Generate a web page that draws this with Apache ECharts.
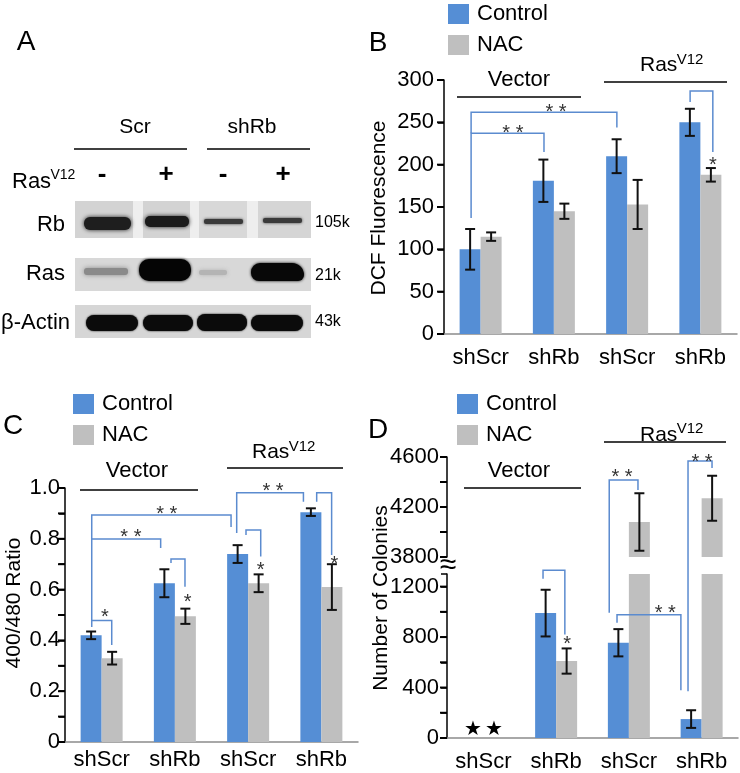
<!DOCTYPE html>
<html><head><meta charset="utf-8">
<script src="https://cdn.jsdelivr.net/npm/echarts@6/dist/echarts.min.js"></script>
<style>html,body{margin:0;padding:0;background:#fff}#c{width:740px;height:773px}</style>
</head><body><div id="c"></div>
<script>
// ---------- data ----------
const categories = ['shScr', 'shRb', 'shScr', 'shRb'];
// Panel B: DCF fluorescence
const dcfControl = [100, 181, 210, 250];
const dcfControlErr = [24, 25, 20, 16];
const dcfNAC = [115, 145, 153, 188];
const dcfNACErr = [5, 9, 29, 8];
const dcfTicks = [0, 50, 100, 150, 200, 250, 300];
// Panel C: 400/480 ratio
const ratioControl = [0.42, 0.625, 0.74, 0.905];
const ratioControlErr = [0.015, 0.055, 0.035, 0.015];
const ratioNAC = [0.33, 0.495, 0.625, 0.61];
const ratioNACErr = [0.025, 0.03, 0.035, 0.09];
const ratioTicks = [0, 0.1, 0.2, 0.3, 0.4, 0.5, 0.6, 0.7, 0.8, 0.9, 1.0];
// Panel D: number of colonies (broken axis 0-1300 / 3800-4600)
const colControl = [0, 990, 755, 150];
const colControlErr = [0, 185, 108, 70];
const colNAC = [0, 610, 4080, 4270];
const colNACErr = [0, 100, 230, 180];
const colTicksLow = [0, 200, 400, 600, 800, 1000, 1200];
const colTicksHigh = [3800, 4000, 4200, 4400, 4600];

// significance brackets: points [gridIndex, category, offset in bands, value]
const brackets = [
  {pts: [[0,0,-0.13,137],[0,0,-0.13,237],[0,1,-0.135,237],[0,1,-0.135,215]], label: '* *', at: [0,0,0.44,243]},
  {pts: [[0,0,-0.13,237],[0,0,-0.13,262],[0,2,-0.14,262],[0,2,-0.14,244]], label: '* *', at: [0,1,0.03,267]},
  {pts: [[0,3,-0.14,274],[0,3,-0.14,287],[0,3,0.17,287],[0,3,0.17,215]], label: '*', at: [0,3,0.17,205]},
  {pts: [[1,0,-0.135,0.453],[1,0,-0.135,0.478],[1,0,0.138,0.478],[1,0,0.138,0.382]], label: '*', at: [1,0,0.046,0.509]},
  {pts: [[1,0,-0.135,0.478],[1,0,-0.135,0.799],[1,1,-0.194,0.799],[1,1,-0.194,0.764]], label: '* *', at: [1,0,0.40,0.823]},
  {pts: [[1,0,-0.135,0.799],[1,0,-0.135,0.894],[1,2,-0.233,0.894],[1,2,-0.233,0.846]], label: '* *', at: [1,0,0.89,0.917]},
  {pts: [[1,1,-0.053,0.705],[1,1,-0.053,0.72],[1,1,0.138,0.72],[1,1,0.138,0.611]], label: '*', at: [1,1,0.175,0.567]},
  {pts: [[1,2,-0.156,0.823],[1,2,-0.156,0.981],[1,3,-0.245,0.981],[1,3,-0.245,0.946]], label: '* *', at: [1,2,0.34,1.005]},
  {pts: [[1,2,-0.029,0.815],[1,2,-0.029,0.835],[1,2,0.172,0.835],[1,2,0.172,0.73]], label: '*', at: [1,2,0.172,0.693]},
  {pts: [[1,3,-0.064,0.946],[1,3,-0.064,0.981],[1,3,0.14,0.981],[1,3,0.14,0.736]], label: '*', at: [1,3,0.176,0.719]},
  {pts: [[2,1,-0.18,1263],[2,1,-0.18,1330],[2,1,0.12,1330],[2,1,0.12,820]], label: '*', at: [2,1,0.15,782]},
  {pts: [[2,2,-0.27,993],[3,2,-0.27,4416],[3,2,0.125,4416],[3,2,0.125,4336]], label: '* *', at: [3,2,-0.095,4475]},
  {pts: [[2,3,-0.187,370],[3,3,-0.187,4568],[3,3,0.143,4568],[3,3,0.143,4512]], label: '* *', at: [3,3,0.005,4600]},
  {pts: [[2,2,-0.163,914],[2,2,-0.163,977],[2,3,-0.285,977],[2,3,-0.285,378]], label: '* *', at: [2,2,0.5,1024]}
];

// ---------- style ----------
const BLUE = '#558ed5', GRAY = '#bfbfbf', BR = '#5b8bcf';
const FF = '"Liberation Sans", Arial, Helvetica, sans-serif';
const BW = 21;

const chart = echarts.init(document.getElementById('c'));

function yAxis(g, min, max, interval, margin, fmt) {
  return {
    type: 'value', gridIndex: g, min: min, max: max, interval: interval,
    axisLine: {show: true, lineStyle: {color: '#000', width: 1.5}},
    axisTick: {show: true, inside: false, length: 6, lineStyle: {color: '#000', width: 1.5}},
    axisLabel: {fontSize: 22, color: '#000', fontFamily: FF, margin: margin, formatter: fmt, hideOverlap: false},
    splitLine: {show: false}
  };
}
function xAxis(g, margin, show) {
  return {
    type: 'category', gridIndex: g, data: categories, show: show,
    axisLine: {show: true, lineStyle: {color: '#8c8c8c', width: 1.5}},
    axisTick: {show: false},
    axisLabel: {fontSize: 22, color: '#000', fontFamily: FF, margin: margin, interval: 0}
  };
}
function bar(name, g, data, color) {
  return {type: 'bar', name: name, xAxisIndex: g, yAxisIndex: g, data: data,
    barWidth: BW, barGap: '0%', itemStyle: {color: color}, clip: true, silent: true};
}
function errBars(g, vals, errs, side, lo, hi) {
  return {
    type: 'custom', xAxisIndex: g, yAxisIndex: g, z: 5, silent: true, clip: false,
    data: vals.map((v, i) => [i, v, errs[i]]),
    renderItem: function (params, api) {
      const i = api.value(0), v = api.value(1), e = api.value(2);
      if (!e || v < lo || v > hi) return;
      const c = api.coord([i, v]);
      const x = c[0] + side * BW / 2;
      const top = api.coord([i, v + e])[1], bot = api.coord([i, v - e])[1];
      const st = {stroke: '#111', lineWidth: 2};
      return {type: 'group', children: [
        {type: 'line', shape: {x1: x, y1: top, x2: x, y2: bot}, style: st},
        {type: 'line', shape: {x1: x - 5, y1: top, x2: x + 5, y2: top}, style: st},
        {type: 'line', shape: {x1: x - 5, y1: bot, x2: x + 5, y2: bot}, style: st}
      ]};
    }
  };
}
function legend(left, top) {
  return {left: left, top: top, padding: 0, orient: 'vertical', icon: 'rect', itemWidth: 21, itemHeight: 20,
    itemGap: 9, selectedMode: false, data: ['Control', 'NAC'],
    textStyle: {fontSize: 22, color: '#000', fontFamily: FF, lineHeight: 20, padding: [0, 0, 0, 3]}};
}
// show a label every `step`, counted from the axis minimum `base`; hide values above maxShown
function fmtStep(step, base, decimals, maxShown) {
  return function (v) {
    const k = Math.round((v - base) / step);
    if (Math.abs(base + k * step - v) > step * 1e-6 || v > maxShown + 1e-9) return '';
    if (v === 0) return '0';
    return decimals ? v.toFixed(decimals) : String(Math.round(v));
  };
}

const option = {
  animation: false,
  textStyle: {fontFamily: FF},
  legend: [legend(448, 3), legend(73, 393), legend(457, 393)],
  grid: [
    {left: 444, top: 80, width: 293, height: 254},
    {left: 65, top: 488, width: 293, height: 254},
    {left: 447, top: 574, width: 291, height: 165},
    {left: 447, top: 457, width: 291, height: 100}
  ],
  xAxis: [xAxis(0, 13, true), xAxis(1, 7, true), xAxis(2, 13, true), xAxis(3, 13, false)],
  yAxis: [
    yAxis(0, 0, 300, 50, 10, fmtStep(50, 0, 0, Infinity)),
    yAxis(1, 0, 1.0, 0.1, 5, fmtStep(0.2, 0, 1, Infinity)),
    yAxis(2, 0, 1300, 200, 8, fmtStep(400, 0, 0, 1200)),
    yAxis(3, 3800, 4600, 200, 8, fmtStep(400, 3800, 0, Infinity))
  ],
  series: [
    bar('Control', 0, dcfControl, BLUE), bar('NAC', 0, dcfNAC, GRAY),
    errBars(0, dcfControl, dcfControlErr, -1, -Infinity, Infinity),
    errBars(0, dcfNAC, dcfNACErr, 1, -Infinity, Infinity),
    bar('Control', 1, ratioControl, BLUE), bar('NAC', 1, ratioNAC, GRAY),
    errBars(1, ratioControl, ratioControlErr, -1, -Infinity, Infinity),
    errBars(1, ratioNAC, ratioNACErr, 1, -Infinity, Infinity),
    bar('Control', 2, colControl, BLUE), bar('NAC', 2, colNAC, GRAY),
    bar('Control', 3, colControl.map(() => '-'), BLUE), bar('NAC', 3, colNAC, GRAY),
    errBars(2, colControl, colControlErr, -1, -Infinity, 1300),
    errBars(2, colNAC, colNACErr, 1, -Infinity, 1300),
    errBars(3, colNAC, colNACErr, 1, 3800, Infinity),
    {
      type: 'custom', xAxisIndex: 2, yAxisIndex: 2, z: 6, silent: true, clip: false,
      data: categories.flatMap((c, i) => [[i, -1, colControl[i]], [i, 1, colNAC[i]]]).filter(d => d[2] === 0),
      renderItem: function (params, api) {
        const c = api.coord([api.value(0), 0]);
        return {type: 'text', x: c[0] + api.value(1) * BW / 2, y: c[1] - 9,
          style: {text: '\u2605', fontSize: 20, fill: '#000', align: 'center', verticalAlign: 'middle',
            textAlign: 'center', textVerticalAlign: 'middle'}};
      }
    }
  ]
};
chart.setOption(option);

// ---------- annotations ----------
function T(x, y, text, fs, opts) {
  opts = opts || {};
  return {type: 'text', x: x, y: y, rotation: opts.rot || 0, z: 10,
    style: {text: text, fontSize: fs, fontFamily: FF, fill: opts.fill || '#000', fontWeight: opts.bold ? 'bold' : 'normal',
      align: opts.align || 'center', verticalAlign: 'middle', textAlign: opts.align || 'center', textVerticalAlign: 'middle'}};
}
function L(x1, y1, x2, y2, color, w) {
  return {type: 'line', z: 10, shape: {x1: x1, y1: y1, x2: x2, y2: y2}, style: {stroke: color || '#000', lineWidth: w || 1.5}};
}
function R(x, y, w, h, fill, r, blur) {
  return {type: 'rect', z: 2, shape: {x: x, y: y, width: w, height: h, r: r || 0},
    style: {fill: fill, shadowBlur: blur || 0, shadowColor: blur ? fill : 'transparent'}};
}
function ras(x, y, fs, supFs, dy) {
  return [T(x, y, 'Ras', fs, {align: 'left'}), T(x + fs * 1.75, y - dy, 'V12', supFs, {align: 'left'})];
}

const g = [];
// Panel letters
g.push(T(26, 42, 'A', 28), T(378, 43, 'B', 28), T(13, 426, 'C', 28), T(378, 430, 'D', 28));
// Panel A: western blot
g.push(T(135, 127, 'Scr', 21), T(252, 127, 'shRb', 21), L(74, 149, 187, 149), L(207, 149, 310, 149));
g.push(...ras(12, 182, 22, 14, 7));
g.push(T(102, 175, '-', 26, {bold: true}), T(166, 175, '+', 26, {bold: true}),
       T(223, 175, '-', 26, {bold: true}), T(283, 175, '+', 26, {bold: true}));
g.push(T(65, 225, 'Rb', 22, {align: 'right'}), T(65, 274, 'Ras', 22, {align: 'right'}), T(70, 323, '\u03b2-Actin', 22, {align: 'right'}));
g.push(T(315, 223, '105k', 16, {align: 'left'}), T(315, 276, '21k', 16, {align: 'left'}), T(315, 322, '43k', 16, {align: 'left'}));
// Rb blot
g.push(R(75, 201, 236, 37, '#eeeeee'), R(75, 201, 58, 37, '#d3d3d3'), R(143, 201, 47, 37, '#d3d3d3'),
       R(199, 201, 48, 37, '#d8d8d8'), R(258, 201, 53, 37, '#d5d5d5'));
g.push(R(84, 217, 47, 13, '#1e1e1e', 6, 4), R(145, 216, 44, 11, '#1a1a1a', 5, 4),
       R(204, 219, 39, 5, '#3a3a3a', 2, 3), R(263, 218, 39, 5, '#3a3a3a', 2, 3));
// Ras blot
g.push(R(75, 258, 236, 33, '#d8d8d8'));
g.push(R(84, 268, 44, 7, '#8a8a8a', 3, 5), R(139, 259, 52, 22, '#050505', 10, 3),
       R(199, 270, 28, 5, '#b4b4b4', 2, 4), R(251, 263, 53, 18, '#080808', [9, 12, 6, 8], 3));
// Actin blot
g.push(R(75, 305, 236, 33, '#d6d6d6'));
g.push(R(86, 315, 52, 16, '#0b0b0b', 8, 2), R(143, 315, 50, 16, '#0b0b0b', 8, 2),
       R(197, 314, 50, 17, '#0b0b0b', 8, 2), R(251, 315, 52, 16, '#0b0b0b', 8, 2));

// Group labels
g.push(T(519, 80, 'Vector', 22), L(457, 97, 581, 97), ...ras(640, 65, 21, 15, 5), L(604, 82, 727, 82));
g.push(T(137, 471, 'Vector', 22), L(80, 490, 198, 490), ...ras(252, 452, 21, 15, 5), L(227, 468, 343, 468));
g.push(T(519, 471, 'Vector', 22), L(464, 488, 581, 488), ...ras(640, 435, 21, 15, 6), L(604, 442, 726, 442));
// Y-axis names
g.push(T(379, 208, 'DCF Fluorescence', 21, {rot: Math.PI / 2}));
g.push(T(14, 603, '400/480 Ratio', 21, {rot: Math.PI / 2}));
g.push(T(381, 598, 'Number of Colonies', 21, {rot: Math.PI / 2}));
// axis break mark
g.push(T(448, 566, '\u2248', 30));

// positions through the library's scales
function bandW(gi) {
  return chart.convertToPixel({xAxisIndex: gi}, 1) - chart.convertToPixel({xAxisIndex: gi}, 0);
}
function P(p) {
  const gi = p[0];
  const cx = chart.convertToPixel({xAxisIndex: gi}, p[1]);
  const y = chart.convertToPixel({yAxisIndex: gi}, p[3]);
  return [cx + p[2] * bandW(gi), y];
}
// outward y-axis tick marks, drawn on top as small filled bars
[[0, dcfTicks], [1, ratioTicks], [2, colTicksLow], [3, colTicksHigh]].forEach(function (pair) {
  const gi = pair[0];
  pair[1].forEach(function (v) {
    const a = P([gi, 0, -0.5, v]);
    g.push({type: 'rect', z: 100, shape: {x: a[0] - 7, y: a[1] - 1, width: 7, height: 2}, style: {fill: '#000'}});
  });
});
brackets.forEach(b => {
  g.push({type: 'polyline', z: 9, shape: {points: b.pts.map(P)}, style: {stroke: BR, lineWidth: 1.5, fill: null}});
  const a = P(b.at);
  g.push(T(a[0], a[1] + 5, b.label, 20, {fill: '#333'}));
});

chart.setOption({graphic: {elements: g}});
</script>
</body></html>
